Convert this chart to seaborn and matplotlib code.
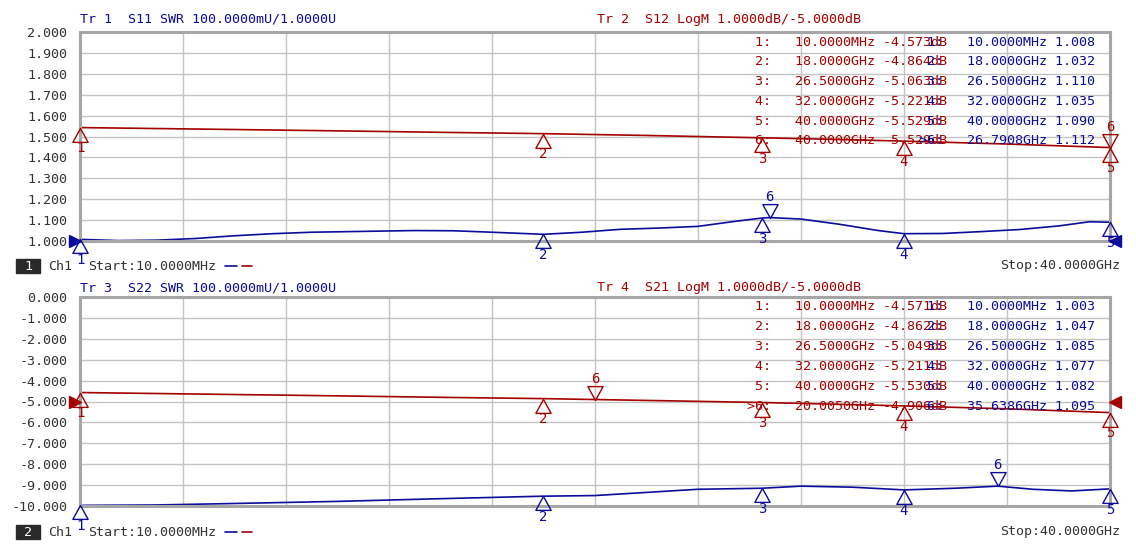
# VNA screenshot recreation: two channels, SWR + LogM traces with markers
import numpy as np
import seaborn as sns
import matplotlib.pyplot as plt
from matplotlib.path import Path
from matplotlib.lines import Line2D

W, H = 1136, 556
BLUE = "#0c0c9c"
RED = "#a40000"

# ---- data (GHz) ----
# Tr1 S11 SWR
s11_freq = [0.01, 1.5, 3.0, 4.5, 6.0, 7.5, 9.0, 11.0, 13.0, 14.5, 16.0, 18.0, 19.5, 21.0, 22.5, 24.0, 25.5, 26.5, 26.79, 28.0, 29.5, 31.0, 32.0, 33.5, 35.0, 36.5, 38.0, 39.2, 40.0]
s11_swr = [1.008, 1.002, 1.004, 1.012, 1.025, 1.035, 1.042, 1.046, 1.05, 1.049, 1.042, 1.032, 1.042, 1.056, 1.062, 1.07, 1.095, 1.110, 1.112, 1.105, 1.08, 1.05, 1.035, 1.036, 1.045, 1.055, 1.072, 1.092, 1.090]
# Tr2 S12 LogM
s12_freq = [0.01, 5.0, 10.0, 14.0, 18.0, 22.0, 26.5, 29.0, 32.0, 36.0, 40.0]
s12_db = [-4.573, -4.65, -4.73, -4.80, -4.864, -4.95, -5.063, -5.13, -5.221, -5.36, -5.529]
# Tr3 S22 SWR
s22_freq = [0.01, 3.0, 6.0, 10.0, 14.0, 18.0, 20.0, 22.0, 24.0, 26.5, 28.0, 30.0, 32.0, 34.0, 35.64, 37.0, 38.5, 40.0]
s22_swr = [1.003, 1.005, 1.012, 1.022, 1.035, 1.047, 1.05, 1.065, 1.08, 1.085, 1.095, 1.09, 1.077, 1.085, 1.095, 1.08, 1.072, 1.082]
# Tr4 S21 LogM
s21_freq = [0.01, 5.0, 10.0, 14.0, 18.0, 20.005, 23.0, 26.5, 29.0, 32.0, 36.0, 40.0]
s21_db = [-4.571, -4.65, -4.73, -4.80, -4.862, -4.906, -4.97, -5.049, -5.12, -5.211, -5.35, -5.530]

# marker tables
mk_freq_top_red = [0.01, 18.0, 26.5, 32.0, 40.0, 40.0]
mk_db_top = [-4.573, -4.864, -5.063, -5.221, -5.529, -5.529]
mk_freq_top_blue = [0.01, 18.0, 26.5, 32.0, 40.0, 26.7908]
mk_swr_top = [1.008, 1.032, 1.110, 1.035, 1.090, 1.112]
mk_freq_bot_red = [0.01, 18.0, 26.5, 32.0, 40.0, 20.005]
mk_db_bot = [-4.571, -4.862, -5.049, -5.211, -5.530, -4.906]
mk_freq_bot_blue = [0.01, 18.0, 26.5, 32.0, 40.0, 35.6386]
mk_swr_bot = [1.003, 1.047, 1.085, 1.077, 1.082, 1.095]


def fmt_freq(f):
    if f < 1:
        return "%.4fMHz" % (f * 1000)
    return "%.4fGHz" % f


def px(x, y):
    return x / W, 1 - y / H


TRI_UP = Path([(0, 0), (-0.55, -1), (0.55, -1), (0, 0)],
              [Path.MOVETO, Path.LINETO, Path.LINETO, Path.CLOSEPOLY])
TRI_DN = Path([(0, 0), (-0.55, 1), (0.55, 1), (0, 0)],
              [Path.MOVETO, Path.LINETO, Path.LINETO, Path.CLOSEPOLY])


def draw_markers(ax, freqs, vals, color):
    for i, (f, v) in enumerate(zip(freqs, vals)):
        down = i == 5
        ax.plot(f, v, marker=TRI_DN if down else TRI_UP, ms=20, mfc="none",
                mec=color, mew=1.0, clip_on=False, zorder=5)
        ax.annotate(str(i + 1), (f, v), xytext=(0, 15 if down else -15),
                    textcoords="offset points", ha="center", va="center",
                    color=color, fontsize=10, annotation_clip=False)


def setup_axes(ax, ylo, yhi, fmt):
    ax.set_xlim(0.01, 40.0)
    ax.set_ylim(ylo, yhi)
    ax.set_xticks(np.linspace(0.01, 40.0, 11))
    ax.set_xticklabels([])
    yt = np.linspace(ylo, yhi, 11)
    ax.set_yticks(yt)
    ax.set_yticklabels([fmt % v for v in yt])
    ax.tick_params(length=0, pad=9, labelsize=9.6, colors="#333333")
    ax.grid(True, color="#c4c4c4", lw=1.0)
    for s in ax.spines.values():
        s.set_color("#a6a6a6")
        s.set_linewidth(2.2)
    ax.set_xlabel("")
    ax.set_ylabel("")


def table(fig, y0, red_f, red_v, blue_f, blue_v, active):
    for i in range(6):
        y = y0 + i * 19.8
        rl = "%d:" % (i + 1)
        rx = 755
        if active == "red" and i == 5:
            rl = ">" + rl
            rx -= 8
        fig.text(*px(rx, y), "%s%s%s %.3fdB" % (rl, " " * 3, fmt_freq(red_f[i]), red_v[i]),
                 color=RED, fontsize=9.6, va="center", ha="left")
        bl = "%d:" % (i + 1)
        bx = 927
        if active == "blue" and i == 5:
            bl = ">" + bl
            bx -= 8
        fig.text(*px(bx, y), "%s%s%s %.3f" % (bl, " " * 3, fmt_freq(blue_f[i]), blue_v[i]),
                 color=BLUE, fontsize=9.6, va="center", ha="left")


def status(fig, y, num):
    fig.patches.append(plt.Rectangle(px(16, y + 7), 24 / W, 14 / H, transform=fig.transFigure,
                                     color="#2a2a2a", zorder=3))
    fig.text(*px(28, y), num, color="white", fontsize=9.6, ha="center", va="center")
    fig.text(*px(48, y), "Ch1", color="#333333", fontsize=9.6, va="center")
    fig.text(*px(88, y), "Start:10.0000MHz", color="#333333", fontsize=9.6, va="center")
    fig.add_artist(Line2D([225 / W, 237 / W], [1 - y / H] * 2, color=BLUE, lw=1.2))
    fig.add_artist(Line2D([242 / W, 252 / W], [1 - y / H] * 2, color=RED, lw=1.2))
    fig.text(*px(1000, y), "Stop:40.0000GHz", color="#333333", fontsize=9.6, va="center")


sns.set_theme(style="white")
plt.rcParams["font.family"] = ["DejaVu Sans Mono"]

fig = plt.figure(figsize=(W / 100, H / 100), dpi=100)
ax1 = fig.add_axes([80 / W, 1 - 241 / H, 1030 / W, 209 / H])
ax2 = fig.add_axes([80 / W, 1 - 506 / H, 1030 / W, 209 / H])

# top: left axis in SWR units, S12 mapped with -5 dB at centre, 1 dB/div
top_red = [1.5 + (v + 5) * 0.1 for v in s12_db]
sns.lineplot(x=s11_freq, y=s11_swr, ax=ax1, color=BLUE, lw=1.2)
sns.lineplot(x=s12_freq, y=top_red, ax=ax1, color=RED, lw=1.2)
setup_axes(ax1, 1.0, 2.0, "%.3f")
draw_markers(ax1, mk_freq_top_blue, mk_swr_top, BLUE)
draw_markers(ax1, mk_freq_top_red, [1.5 + (v + 5) * 0.1 for v in mk_db_top], RED)
ax1.plot(-0.2, 1.0, marker=">", ms=9, color=BLUE, clip_on=False, zorder=6)
ax1.plot(40.2, 1.0, marker="<", ms=9, color=BLUE, clip_on=False, zorder=6)

# bottom: left axis in dB units, S22 mapped with 1.000 at bottom, 100 mU/div
bot_blue = [-10 + (v - 1) * 10 for v in s22_swr]
sns.lineplot(x=s22_freq, y=bot_blue, ax=ax2, color=BLUE, lw=1.2)
sns.lineplot(x=s21_freq, y=s21_db, ax=ax2, color=RED, lw=1.2)
setup_axes(ax2, -10.0, 0.0, "%.3f")
draw_markers(ax2, mk_freq_bot_blue, [-10 + (v - 1) * 10 for v in mk_swr_bot], BLUE)
draw_markers(ax2, mk_freq_bot_red, mk_db_bot, RED)
ax2.plot(-0.2, -5.0, marker=">", ms=9, color=RED, clip_on=False, zorder=6)
ax2.plot(40.2, -5.0, marker="<", ms=9, color=RED, clip_on=False, zorder=6)

# headers
fig.text(*px(80, 19), "Tr 1  S11 SWR 100.0000mU/1.0000U", color=BLUE, fontsize=9.6, va="center")
fig.text(*px(597, 19), "Tr 2  S12 LogM 1.0000dB/-5.0000dB", color=RED, fontsize=9.6, va="center")
fig.text(*px(80, 288), "Tr 3  S22 SWR 100.0000mU/1.0000U", color=BLUE, fontsize=9.6, va="center")
fig.text(*px(597, 288), "Tr 4  S21 LogM 1.0000dB/-5.0000dB", color=RED, fontsize=9.6, va="center")

table(fig, 42, mk_freq_top_red, mk_db_top, mk_freq_top_blue, mk_swr_top, "blue")
table(fig, 307, mk_freq_bot_red, mk_db_bot, mk_freq_bot_blue, mk_swr_bot, "red")

status(fig, 266, "1")
status(fig, 532, "2")

fig.savefig("out.png", dpi=100)
